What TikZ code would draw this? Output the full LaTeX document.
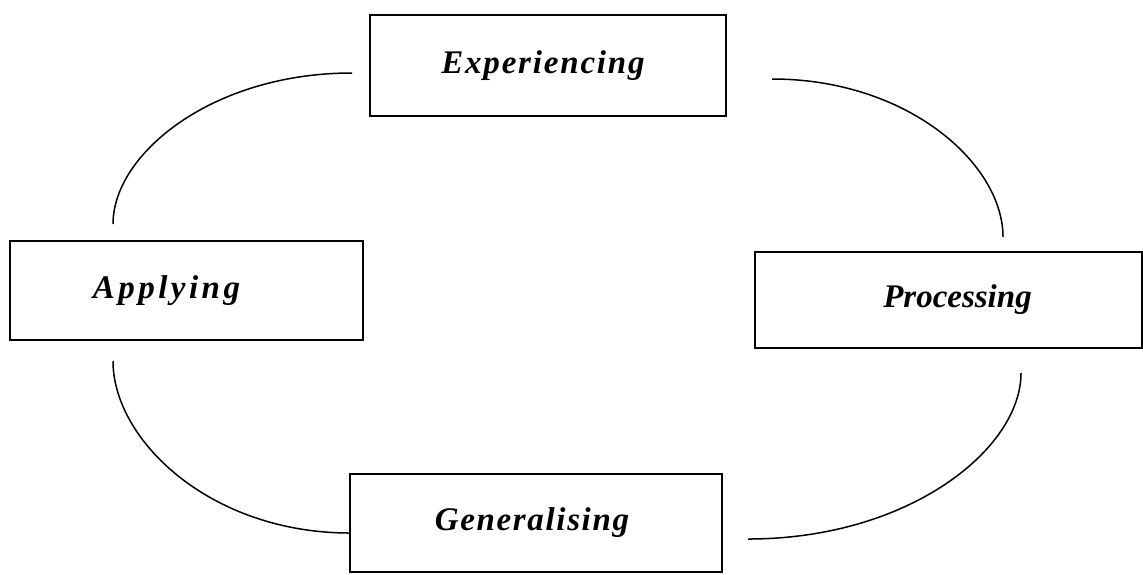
\documentclass[tikz,border=0pt]{standalone}
\usepackage{fontspec}
\setmainfont{Liberation Serif}
\usepackage{tikz}
\usetikzlibrary{calc,positioning}
\tikzstyle{stage}=[rectangle, draw, line width=1pt, inner sep=0pt, outer sep=0pt,
  font=\bfseries\itshape\fontsize{16.5}{20}\selectfont]
\tikzstyle{cycleline}=[line width=0.75pt]

\begin{document}
\begin{tikzpicture}[x=0.5pt, y=-0.5pt]
  \useasboundingbox (0,0) rectangle (1143,574);
  % the four stages
  \node[stage, minimum width=178pt, minimum height=50.5pt] (exp) at (548,65.5)
    {\addfontfeature{LetterSpace=5.5}\hspace*{-5pt}Experiencing};
  \node[stage, minimum width=176.5pt, minimum height=49.5pt] (app) at (186.5,290.5)
    {\addfontfeature{LetterSpace=10.5}\hspace*{-20pt}Applying};
  \node[stage, minimum width=193.5pt, minimum height=48pt] (proc) at (948.5,300)
    {Processing\hspace*{-9pt}};
  \node[stage, minimum width=186pt, minimum height=49pt] (gen) at (536,523)
    {\addfontfeature{LetterSpace=5}\hspace*{-4pt}Generalising};
  % curve ends
  \coordinate (tl1) at ($(app.north west)+(103,-17)$);
  \coordinate (tl2) at ($(exp.west)+(-18,7.5)$);
  \coordinate (tr1) at ($(exp.east)+(46,13.5)$);
  \coordinate (tr2) at ($(proc.north west)+(248,-15)$);
  \coordinate (br1) at ($(proc.south west)+(266,25)$);
  \coordinate (br2) at ($(gen.east)+(26,16)$);
  \coordinate (bl1) at ($(app.south west)+(103,21)$);
  \coordinate (bl2) at ($(gen.west)+(0,10)$);
  % cycle
  \draw[cycleline] (tl1) .. controls ($(tl1)+(0,-70)$) and ($(tl2)+(-140,0)$) .. (tl2);
  \draw[cycleline] (tr1) .. controls ($(tr1)+(136,0)$) and ($(tr2)+(0,-73)$) .. (tr2);
  \draw[cycleline] (br1) .. controls ($(br1)+(0,76)$) and ($(br2)+(161,0)$) .. (br2);
  \draw[cycleline] (bl1) .. controls ($(bl1)+(0,79)$) and ($(bl2)+(-140,0)$) .. (bl2);
\end{tikzpicture}
\end{document}
